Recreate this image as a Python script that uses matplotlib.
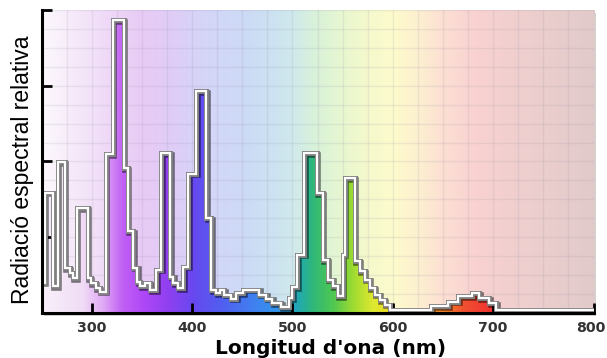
import numpy as np
import matplotlib.pyplot as plt
from matplotlib import patheffects as pe
from matplotlib import transforms
from matplotlib.colors import to_rgb
from matplotlib.patches import Rectangle

# dades llegides del grafic (longitud d'ona en nm, radiacio relativa)
wl_edges = [250, 253, 261, 266, 273, 278, 281, 285, 296, 299, 304, 308, 314,
            321, 332, 336, 341, 345, 348, 353, 358, 364, 369, 378, 381, 386,
            391, 396, 404, 414, 419, 424, 428, 432, 439, 444, 451, 467, 474,
            480, 489, 497, 500, 505, 512, 524, 530, 535, 540, 545, 550, 552,
            562, 567, 572, 577, 582, 587, 592, 597, 638, 655, 665, 679, 686,
            696, 703, 800]
levels = [0.40, 1.59, 0.35, 1.99, 0.59, 0.53, 0.46, 1.38, 0.46, 0.39, 0.33,
          0.28, 2.10, 3.87, 1.91, 1.08, 0.60, 0.41, 0.35, 0.39, 0.30, 0.57,
          2.11, 0.48, 0.39, 0.33, 0.61, 1.84, 2.93, 1.25, 0.30, 0.26, 0.30,
          0.24, 0.19, 0.26, 0.31, 0.24, 0.19, 0.13, 0.08, 0.20, 0.34, 0.77,
          2.11, 1.58, 0.70, 0.44, 0.35, 0.22, 0.77, 1.78, 0.68, 0.55, 0.44,
          0.33, 0.24, 0.17, 0.11, 0.04, 0.09, 0.15, 0.22, 0.26, 0.20, 0.13,
          0.04]
x_ticks = [300, 400, 500, 600, 700, 800]
y_ticks = [1, 2, 3, 4]

# colors de fons (pastel) i de l'area sota la corba (saturats)
bg_wl = [250, 290, 320, 350, 380, 410, 450, 480, 500, 520, 550, 575, 600, 625, 650, 680, 720, 760, 800]
bg_col = ['#fcf8fd', '#f4e6f9', '#eed6f7', '#e8cbf5', '#dfcdf7', '#d5d5f8', '#cddaf6', '#cce2f2',
          '#d0e9ec', '#d8f1da', '#e8f7d0', '#f5f9cc', '#fdfbcc', '#fdefd0', '#fcdfd3', '#f9d2d1',
          '#f1cfcf', '#e9cdcd', '#e2caca']
fill_wl = [250, 290, 310, 330, 350, 375, 400, 430, 460, 490, 505, 520, 540, 560, 580, 600, 630, 650, 670, 700, 800]
fill_col = ['#f8f0fa', '#f0dcf6', '#e0aaf4', '#c060f4', '#b048f8', '#9040f0', '#6848f0', '#5060f0',
            '#4080f0', '#3098e8', '#20a8b0', '#30b878', '#50c850', '#a0dc30', '#e0e830', '#f0d820',
            '#f0a030', '#f08028', '#f05030', '#f03030', '#e02020']


def gradient(stop_wl, stop_col, xs):
    rgb = np.array([to_rgb(c) for c in stop_col])
    return np.stack([np.interp(xs, stop_wl, rgb[:, i]) for i in range(3)], axis=-1)[None, :, :]


fig = plt.figure(figsize=(6.07, 3.58), dpi=100)
ax = fig.add_axes([0.0684, 0.1257, 0.9094, 0.8464])

# ombra del requadre
fig.add_artist(Rectangle((0.0684 + 0.004, 0.1257 - 0.008), 0.9094, 0.8464, transform=fig.transFigure,
                         facecolor='#9a9a9a', alpha=0.45, edgecolor='none', zorder=-1))

xs = np.linspace(250, 800, 551)
ax.imshow(gradient(bg_wl, bg_col, xs), extent=[250, 800, 0, 4], aspect='auto',
          interpolation='bilinear', zorder=0)

# graella fina
for gx in np.arange(250, 801, 25):
    ax.axvline(gx, color='#8a8aa0', alpha=0.14, lw=1, zorder=0.5)
for gy in np.arange(0, 4.01, 0.25):
    ax.axhline(gy, color='#8a8aa0', alpha=0.14, lw=1, zorder=0.5)

# area sota la corba amb l'espectre saturat
area = ax.stairs(levels, wl_edges, fill=True, baseline=0, facecolor='none', edgecolor='none')
fill_im = ax.imshow(gradient(fill_wl, fill_col, xs), extent=[250, 800, 0, 4], aspect='auto',
                    interpolation='bilinear', zorder=1)
fill_im.set_clip_path(area)

# linia esglaonada blanca amb contorn gris
line = ax.stairs(levels, wl_edges, baseline=None, color='white', lw=1.6, zorder=4)
line.set_path_effects([pe.SimpleLineShadow(offset=(1.2, -1.2), shadow_color='black', alpha=0.5, linewidth=4.0),
                       pe.Stroke(linewidth=3.6, foreground='#808080'),
                       pe.Normal()])

ax.set_xlim(250, 800)
ax.set_ylim(0, 4)
ax.set_xticks(x_ticks)
ax.set_yticks(y_ticks)
ax.set_yticklabels([])
ax.tick_params(direction='in', length=7, width=2, color='black')
ax.tick_params(axis='x', pad=6, labelsize=10.2, labelcolor='#333333')
xlabels = ax.get_xticklabels()
for lab in xlabels:
    lab.set_fontweight('bold')
# l'etiqueta 800 una mica cap a l'esquerra perque no quedi tallada
xlabels[-1].set_transform(xlabels[-1].get_transform() +
                          transforms.ScaledTranslation(-3 / 100, 0, fig.dpi_scale_trans))

for s in ['top', 'right']:
    ax.spines[s].set_visible(False)
for s in ['left', 'bottom']:
    ax.spines[s].set_linewidth(2.2)
    ax.spines[s].set_color('black')
    ax.spines[s].set_zorder(5)

ax.set_xlabel("Longitud d'ona (nm)", fontsize=14.5, fontweight='bold', family='DejaVu Sans')
ax.xaxis.set_label_coords(0.523, -0.085)
ax.set_ylabel('Radiació espectral relativa', fontsize=16.5, family='Liberation Sans')
ax.yaxis.set_label_coords(-0.014, 0.472)

fig.savefig('out.png', dpi=100)
